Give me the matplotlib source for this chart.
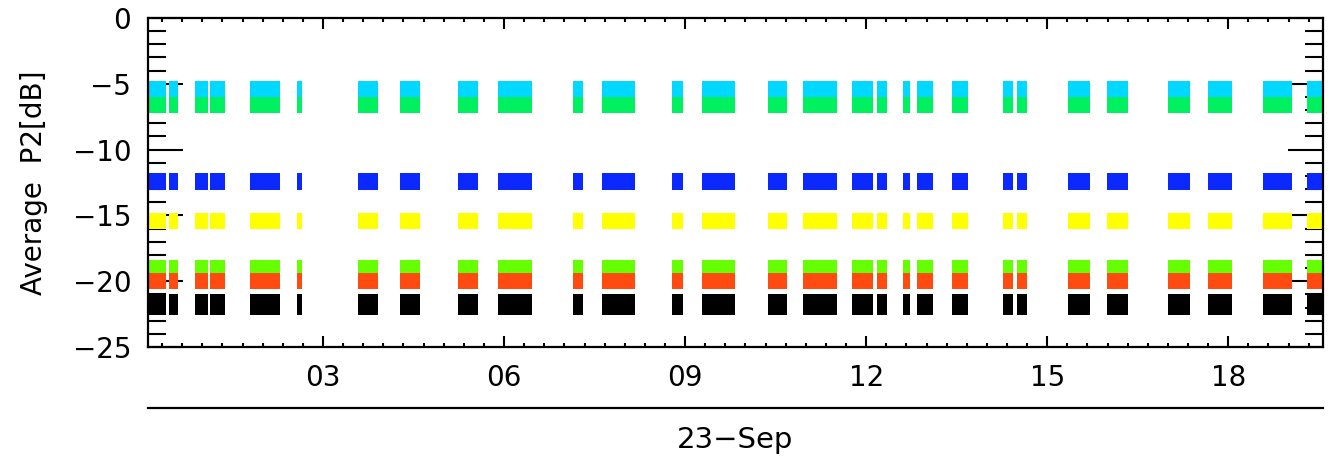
import matplotlib
matplotlib.use("Agg")
import matplotlib.pyplot as plt
from matplotlib.ticker import MultipleLocator, FuncFormatter
from matplotlib.lines import Line2D

# measurement blocks: start / end time (hours on 23-Sep)
t_start = [0.10, 0.45, 0.88, 1.13, 1.79, 2.57, 3.58, 4.28, 5.24, 5.90,
           7.14, 7.62, 8.78, 9.28, 10.38, 10.96, 11.77, 12.18, 12.61, 12.85,
           13.43, 14.27, 14.50, 15.35, 15.99, 17.00, 17.67, 18.58, 19.31]
t_end = [0.40, 0.60, 1.09, 1.38, 2.29, 2.65, 3.91, 4.61, 5.57, 6.46,
         7.31, 8.17, 8.97, 9.83, 10.69, 11.52, 12.12, 12.35, 12.73, 13.11,
         13.69, 14.44, 14.67, 15.71, 16.34, 17.37, 18.07, 19.06, 19.60]

# average P2 spread of each channel [dB] (low, high)
band_names = ["cyan", "green", "blue", "yellow", "lime", "red", "black"]
band_low = [-6.2, -7.2, -13.1, -16.0, -19.5, -20.6, -22.6]
band_high = [-4.8, -6.0, -11.8, -14.8, -18.4, -19.4, -21.0]
band_colors = ["#00d8ff", "#00f060", "#0a28ff", "#ffff00", "#66ff00", "#ff4a10", "#000000"]

fig = plt.figure(figsize=(13.35, 4.73), dpi=100)
ax = fig.add_axes([148/1335, 1-347/473, (1323-148)/1335, (347-18)/473])

for lo, hi, c in zip(band_low, band_high, band_colors):
    widths = [e - s for s, e in zip(t_start, t_end)]
    ax.bar(t_start, hi - lo, width=widths, bottom=lo, align="edge",
           color=c, edgecolor="none", zorder=2)

ax.set_xlim(0.10, 19.57)
ax.set_ylim(-25, 0)

ax.xaxis.set_major_locator(MultipleLocator(3))
ax.xaxis.set_minor_locator(MultipleLocator(1/3))
ax.xaxis.set_major_formatter(FuncFormatter(lambda v, p: "%02d" % round(v)))
ax.yaxis.set_major_locator(MultipleLocator(5))
ax.yaxis.set_minor_locator(MultipleLocator(1))

ax.tick_params(axis="x", which="major", direction="in", length=8, width=1.5,
               top=True, labelsize=20, pad=12)
ax.tick_params(axis="x", which="minor", direction="in", length=3, width=1.5, top=True)
ax.tick_params(axis="y", which="major", direction="in", length=25, width=1.5,
               right=True, labelsize=20, pad=12)
ax.tick_params(axis="y", which="minor", direction="in", length=13, width=1.5, right=True)
for s in ax.spines.values():
    s.set_linewidth(1.6)

ax.set_ylabel("Average  P2[dB]", fontsize=20, labelpad=18)

# date axis line below
fig.add_artist(Line2D([148/1335, 1323/1335], [1-408/473, 1-408/473],
                      transform=fig.transFigure, color="black", lw=1.6))
fig.text((148+1323)/2/1335, 1-440/473, "23\u2212Sep", fontsize=21,
         ha="center", va="center")

fig.savefig("out.png", dpi=100)
